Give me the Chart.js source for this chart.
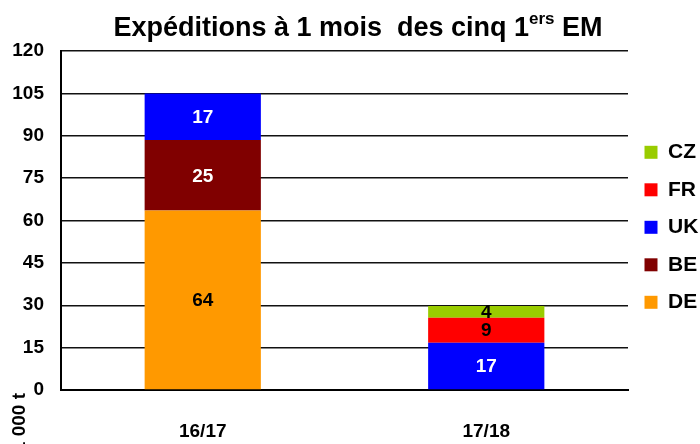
<!DOCTYPE html>
<html>
<head>
  <meta charset="utf-8">
  <title>Expéditions à 1 mois des cinq 1ers EM</title>
  <script src="https://cdn.jsdelivr.net/npm/chart.js"></script>
  <style>
    body {
      margin: 0;
      background: #fff;
      font-family: "Liberation Sans", Arial, sans-serif;
    }
    .wrap {
      position: relative;
      width: 700px;
      height: 444px;
    }
    .title {
      position: absolute;
      left: 0;
      top: 11px;
      width: 716px;
      text-align: center;
      font-size: 27px;
      font-weight: bold;
      color: #000;
      line-height: 32px;
    }
    .title sup {
      font-size: 17px;
      vertical-align: 12px;
      line-height: 0;
    }
  </style>
</head>
<body>
  <div class="wrap">
    <canvas id="chart" width="700" height="444"></canvas>
    <div class="title">Expéditions à 1 mois&nbsp; des cinq 1<sup>ers</sup> EM</div>
  </div>

  <script>
    const campaigns = ['16/17', '17/18'];
    const DE = [63.5, null];
    const BE = [25.0, null];
    const UK = [16.5, 16.7];
    const FR = [null, 8.9];
    const CZ = [null, 4.1];
    const yTicks = [0, 15, 30, 45, 60, 75, 90, 105, 120];
    const unitLabel = '1 000 t';

    const FONT = '"Liberation Sans", Arial, sans-serif';

    // value labels inside the stacked segments
    const valueLabels = {
      id: 'valueLabels',
      afterDatasetsDraw(chart) {
        const ctx = chart.ctx;
        ctx.save();
        ctx.font = 'bold 19px ' + FONT;
        ctx.textAlign = 'center';
        ctx.textBaseline = 'middle';
        chart.data.datasets.forEach((ds, i) => {
          const meta = chart.getDatasetMeta(i);
          meta.data.forEach((bar, j) => {
            const v = ds.data[j];
            if (v == null) return;
            const mid = (bar.y + bar.base) / 2;
            ctx.fillStyle = ds.labelColor;
            ctx.fillText(Math.round(v), bar.x, mid + 1);
          });
        });
        ctx.restore();
      }
    };

    // unit label written below the y axis
    const unitTitle = {
      id: 'unitTitle',
      afterDraw(chart) {
        const ctx = chart.ctx;
        ctx.save();
        ctx.font = 'bold 19px ' + FONT;
        ctx.fillStyle = '#000';
        ctx.translate(20, 393);
        ctx.rotate(-Math.PI / 2);
        ctx.textAlign = 'right';
        ctx.textBaseline = 'middle';
        ctx.fillText(unitLabel, 0, 0);
        ctx.restore();
      }
    };

    new Chart(document.getElementById('chart'), {
      type: 'bar',
      data: {
        labels: campaigns,
        datasets: [
          { label: 'DE', data: DE, backgroundColor: '#FF9900', labelColor: '#000' },
          { label: 'BE', data: BE, backgroundColor: '#800000', labelColor: '#fff' },
          { label: 'UK', data: UK, backgroundColor: '#0000FF', labelColor: '#fff' },
          { label: 'FR', data: FR, backgroundColor: '#FF0000', labelColor: '#000' },
          { label: 'CZ', data: CZ, backgroundColor: '#99CC00', labelColor: '#000' }
        ]
      },
      options: {
        responsive: false,
        animation: false,
        barPercentage: 0.41,
        categoryPercentage: 1,
        layout: { padding: { top: 51, right: 0, bottom: 0, left: 0 } },
        plugins: {
          legend: {
            position: 'right',
            fullSize: false,
            maxWidth: 72,
            reverse: true,
            // empty title only nudges the items down a little
            title: { display: true, text: ' ', font: { size: 8 }, padding: 2 },
            labels: {
              boxWidth: 13,
              boxHeight: 13,
              padding: 16.5,
              color: '#000',
              font: { family: FONT, size: 21, weight: 'bold' }
            }
          },
          tooltip: { enabled: false }
        },
        scales: {
          x: {
            stacked: true,
            grid: { display: false },
            border: { color: '#000', width: 2 },
            ticks: {
              color: '#000',
              padding: 22,
              font: { family: FONT, size: 19, weight: 'bold' }
            },
            afterFit(scale) { scale.height = 54; }
          },
          y: {
            stacked: true,
            min: 0,
            max: 120,
            afterBuildTicks(scale) { scale.ticks = yTicks.map(v => ({ value: v })); },
            grid: { color: '#111', lineWidth: 1.5, drawTicks: false },
            border: { color: '#000', width: 2 },
            ticks: {
              color: '#000',
              padding: 17,
              font: { family: FONT, size: 19, weight: 'bold' }
            },
            afterFit(scale) { scale.width = 61; }
          }
        }
      },
      plugins: [valueLabels, unitTitle]
    });
  </script>
</body>
</html>
